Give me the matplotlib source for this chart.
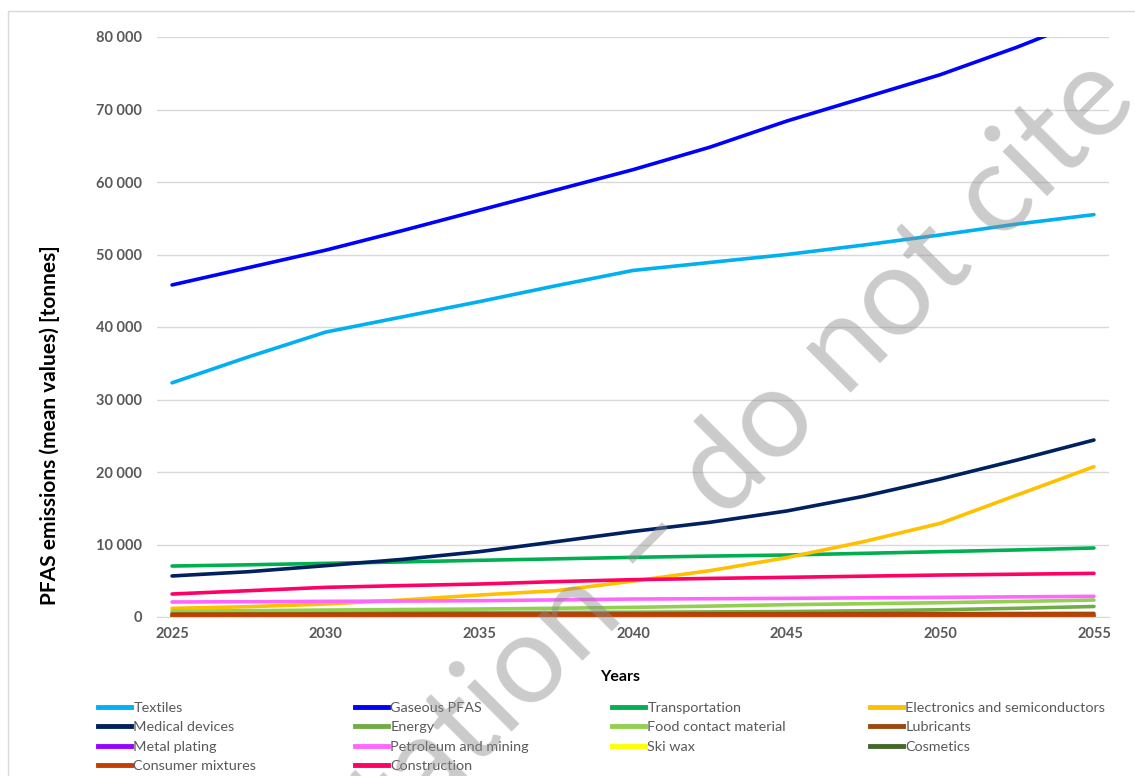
import matplotlib
matplotlib.use("Agg")
import matplotlib.pyplot as plt
from matplotlib.lines import Line2D
from matplotlib.patches import Rectangle
from matplotlib.ticker import FuncFormatter

plt.rcParams['font.family'] = ['Lato', 'DejaVu Sans']

# years of the projection (values read every 2.5 years)
years = [2025, 2027.5, 2030, 2032.5, 2035, 2037.5, 2040, 2042.5, 2045, 2047.5, 2050, 2052.5, 2055]

textiles = [32300, 35900, 39300, 41400, 43500, 45700, 47800, 48900, 50000, 51300, 52700, 54200, 55500]
gaseous_pfas = [45800, 48200, 50600, 53300, 56100, 58900, 61700, 64800, 68400, 71600, 74800, 78600, 82800]
transportation = [7030, 7200, 7400, 7600, 7820, 8020, 8230, 8400, 8550, 8780, 9010, 9250, 9520]
electronics = [1190, 1420, 1790, 2340, 3030, 3630, 4950, 6390, 8180, 10390, 12920, 16830, 20730]
medical_devices = [5660, 6250, 7080, 7950, 9010, 10390, 11800, 13060, 14620, 16640, 19030, 21650, 24410]
energy = [500, 520, 550, 580, 600, 630, 650, 700, 750, 850, 1000, 1200, 1450]
food_contact = [780, 870, 960, 1030, 1100, 1200, 1330, 1500, 1700, 1830, 1970, 2150, 2340]
lubricants = [400, 405, 410, 415, 420, 425, 430, 440, 450, 460, 470, 480, 490]
metal_plating = [50, 50, 50, 50, 50, 50, 50, 50, 50, 50, 50, 50, 50]
petroleum = [2070, 2110, 2160, 2200, 2250, 2360, 2480, 2520, 2570, 2640, 2710, 2780, 2850]
ski_wax = [10, 10, 10, 10, 10, 10, 10, 10, 10, 10, 10, 10, 10]
cosmetics = [100, 100, 100, 100, 100, 100, 100, 100, 100, 100, 100, 100, 100]
consumer_mixtures = [200, 205, 210, 215, 220, 225, 230, 235, 240, 245, 250, 255, 260]
construction = [3170, 3630, 4090, 4330, 4550, 4880, 5150, 5320, 5470, 5630, 5790, 5900, 6020]

series = [
    ("Textiles", textiles, "#00B0F0"),
    ("Gaseous PFAS", gaseous_pfas, "#0000FF"),
    ("Transportation", transportation, "#00B050"),
    ("Electronics and semiconductors", electronics, "#FFC000"),
    ("Medical devices", medical_devices, "#002060"),
    ("Energy", energy, "#70AD47"),
    ("Food contact material", food_contact, "#92D050"),
    ("Lubricants", lubricants, "#9E480E"),
    ("Metal plating", metal_plating, "#9900FF"),
    ("Petroleum and mining", petroleum, "#FF66FF"),
    ("Ski wax", ski_wax, "#FFFF00"),
    ("Cosmetics", cosmetics, "#43682B"),
    ("Consumer mixtures", consumer_mixtures, "#C43E00"),
    ("Construction", construction, "#FF0066"),
]

W, H = 1135, 776
fig = plt.figure(figsize=(W / 100, H / 100), dpi=100)
ax = fig.add_axes([157 / W, 1 - 617 / H, (1109 - 157) / W, (617 - 37) / H])

for name, vals, col in series:
    ax.plot(years, vals, color=col, lw=2.6, label=name, solid_capstyle='round')

ax.set_xlim(2024.51, 2055.49)
ax.set_ylim(0, 80000)
ax.set_xticks(range(2025, 2056, 5))
ax.set_yticks(range(0, 80001, 10000))
ax.yaxis.set_major_formatter(FuncFormatter(lambda v, p: f"{int(v):,}".replace(",", " ")))
ax.grid(axis='y', color='#d9d9d9', lw=1)
ax.set_axisbelow(True)
for s in ['top', 'right', 'left']:
    ax.spines[s].set_visible(False)
ax.spines['bottom'].set_color('#d9d9d9')
ax.tick_params(length=0, labelsize=10.5, colors='#595959')
ax.tick_params(axis='x', pad=7)
ax.tick_params(axis='y', pad=11)
for lbl in ax.get_xticklabels() + ax.get_yticklabels():
    lbl.set_fontweight('bold')

fig.text(50 / W, 1 - 425 / H, "PFAS emissions (mean values) [tonnes]", rotation=90,
         ha='center', va='center', fontsize=15, fontweight='bold')
fig.text(620 / W, 1 - 677 / H, "Years", ha='center', va='center', fontsize=11.5, fontweight='bold')

# legend: four fixed columns, filled row by row
col_x = [98, 355, 612, 870]
for c in range(4):
    items = series[c::4]
    handles = [Line2D([], [], color=col, lw=3.5) for _, _, col in items]
    leg = fig.legend(handles, [n for n, _, _ in items], loc='upper left',
                     bbox_to_anchor=(col_x[c] / W, 1 - 702 / H), frameon=False,
                     fontsize=10.4, handlelength=2.3, handletextpad=0.15,
                     labelspacing=0.5, borderaxespad=0, borderpad=0)
    for t in leg.get_texts():
        t.set_color('#595959')

fig.text(611 / W, 1 - 582 / H, "Consultation \u2013 do not cite", rotation=45,
         rotation_mode='anchor', ha='center', va='center', fontsize=90,
         color='#8c8c8c', alpha=0.45, zorder=10)

fig.add_artist(Rectangle((8 / W, -0.1), 1.2, (H - 11) / H + 0.1, transform=fig.transFigure,
                         fill=False, ec='#d9d9d9', lw=1))

fig.savefig("out.png", dpi=100)
